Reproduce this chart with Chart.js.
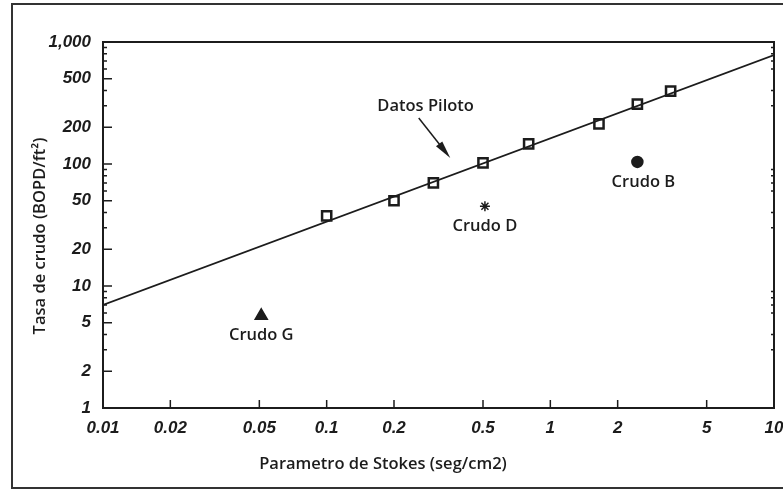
<!DOCTYPE html>
<html>
<head>
<meta charset="utf-8">
<script src="https://cdn.jsdelivr.net/npm/chart.js@4"></script>
<style>
  html, body { margin: 0; padding: 0; background: #fff; }
  #wrap { width: 783px; height: 491px; }
</style>
</head>
<body>
<div id="wrap"><canvas id="chart" width="783" height="491"></canvas></div>
<script>
const xTicks = [0.01, 0.02, 0.05, 0.1, 0.2, 0.5, 1, 2, 5, 10];
const yTicks = [1, 2, 5, 10, 20, 50, 100, 200, 500, 1000];

// pilot data (squares) and the fitted line
const pilotX = [0.1, 0.2, 0.3, 0.5, 0.8, 1.65, 2.45, 3.45];
const pilotY = [37.5, 50, 70, 102, 146, 213, 310, 396];
const fitX = [0.01, 10];
const fitY = [7.0, 782];

// single crudes
const crudeNames = ["Crudo B", "Crudo D", "Crudo G"];
const crudeX = [2.45, 0.51, 0.051];
const crudeY = [104, 45, 5.7];
const crudeStyles = ["circle", "star", "triangle"];

const ink = "#1c1c1c";
const tickFont = { family: "Liberation Sans", size: 17, weight: "bold", style: "italic" };
const textFont = "600 16.5px 'Open Sans'";

function pts(xs, ys) {
    return xs.map((x, i) => ({ x: x, y: ys[i] }));
}

const decorations = {
    id: "decorations",
    afterDraw(chart) {
        const ctx = chart.ctx;
        const a = chart.chartArea;
        const xs = chart.scales.x;
        const ys = chart.scales.y;
        ctx.save();
        // outer frame
        ctx.strokeStyle = "#333";
        ctx.lineWidth = 2;
        ctx.strokeRect(12, 4, 820, 484);
        // plot frame
        ctx.strokeStyle = ink;
        ctx.strokeRect(a.left, a.top, a.right - a.left, a.bottom - a.top);
        // inward ticks
        ctx.lineWidth = 1.5;
        ctx.beginPath();
        for (const v of xTicks) {
            const px = xs.getPixelForValue(v);
            ctx.moveTo(px, a.bottom);
            ctx.lineTo(px, a.bottom - 8);
        }
        for (let d = 1; d <= 1000; d *= 10) {
            for (let m = 1; m < 10; m++) {
                const v = d * m;
                if (v > 1000) break;
                const py = ys.getPixelForValue(v);
                const len = yTicks.includes(v) ? 9 : 4;
                ctx.moveTo(a.left, py);
                ctx.lineTo(a.left + len, py);
                if (!yTicks.includes(v)) {
                    ctx.moveTo(a.right, py);
                    ctx.lineTo(a.right - 3, py);
                }
            }
        }
        ctx.stroke();
        // point labels
        ctx.fillStyle = ink;
        ctx.font = textFont;
        ctx.textAlign = "center";
        ctx.textBaseline = "middle";
        crudeNames.forEach((name, i) => {
            const px = xs.getPixelForValue(crudeX[i]);
            const py = ys.getPixelForValue(crudeY[i]);
            ctx.fillText(name, px + (i === 0 ? 6 : 0), py + 20);
        });
        // "Datos Piloto" label and arrow
        const lx = xs.getPixelForValue(0.277), ly = ys.getPixelForValue(299);
        ctx.fillText("Datos Piloto", lx, ly);
        const tx = xs.getPixelForValue(0.258), ty = ys.getPixelForValue(238);
        const hx = xs.getPixelForValue(0.357), hy = ys.getPixelForValue(112);
        const ang = Math.atan2(hy - ty, hx - tx);
        ctx.strokeStyle = ink;
        ctx.lineWidth = 1.5;
        ctx.beginPath();
        ctx.moveTo(tx, ty);
        ctx.lineTo(hx - 14 * Math.cos(ang), hy - 14 * Math.sin(ang));
        ctx.stroke();
        ctx.beginPath();
        ctx.moveTo(hx, hy);
        ctx.lineTo(hx - 18 * Math.cos(ang) + 4 * Math.sin(ang), hy - 18 * Math.sin(ang) - 4 * Math.cos(ang));
        ctx.lineTo(hx - 18 * Math.cos(ang) - 4 * Math.sin(ang), hy - 18 * Math.sin(ang) + 4 * Math.cos(ang));
        ctx.closePath();
        ctx.fill();
        // axis titles
        ctx.font = textFont;
        ctx.fillText("Parametro de Stokes (seg/cm2)", 383, 464);
        ctx.translate(40, 236);
        ctx.rotate(-Math.PI / 2);
        ctx.fillText("Tasa de crudo (BOPD/ft\u00B2)", 0, 0);
        ctx.restore();
    }
};

new Chart(document.getElementById("chart"), {
    type: "scatter",
    data: {
        datasets: [
            {
                label: "Ajuste",
                data: pts(fitX, fitY),
                showLine: true,
                borderColor: ink,
                borderWidth: 1.8,
                pointRadius: 0
            },
            {
                label: "Datos Piloto",
                data: pts(pilotX, pilotY),
                pointStyle: "rect",
                pointRadius: 6.5,
                pointBackgroundColor: "#fff",
                pointBorderColor: ink,
                pointBorderWidth: 2.5
            },
            {
                label: "Crudos",
                data: pts(crudeX, crudeY),
                pointStyle: crudeStyles,
                pointRadius: [5.5, 5, 7],
                pointBackgroundColor: ink,
                pointBorderColor: ink,
                pointBorderWidth: 1.5
            }
        ]
    },
    plugins: [decorations],
    options: {
        responsive: false,
        animation: false,
        layout: { padding: { top: 42, right: 6, left: 0, bottom: 0 } },
        plugins: { legend: { display: false }, tooltip: { enabled: false } },
        scales: {
            x: {
                type: "logarithmic",
                min: 0.01,
                max: 10,
                grid: { display: false, drawTicks: false },
                border: { display: false },
                afterBuildTicks: (s) => { s.ticks = xTicks.map(v => ({ value: v })); },
                afterFit: (s) => { s.height = 83; s.paddingLeft = 0; s.paddingRight = 0; },
                ticks: {
                    color: ink,
                    font: tickFont,
                    padding: 10,
                    maxRotation: 0,
                    autoSkip: false,
                    callback: (v) => String(v)
                }
            },
            y: {
                type: "logarithmic",
                min: 1,
                max: 1000,
                grid: { display: false, drawTicks: false },
                border: { display: false },
                afterBuildTicks: (s) => { s.ticks = yTicks.map(v => ({ value: v })); },
                afterFit: (s) => { s.width = 103; s.paddingTop = 0; s.paddingBottom = 0; },
                ticks: {
                    color: ink,
                    font: tickFont,
                    padding: 12,
                    autoSkip: false,
                    callback: (v) => v.toLocaleString("en-US")
                }
            }
        }
    }
});
</script>
</body>
</html>
